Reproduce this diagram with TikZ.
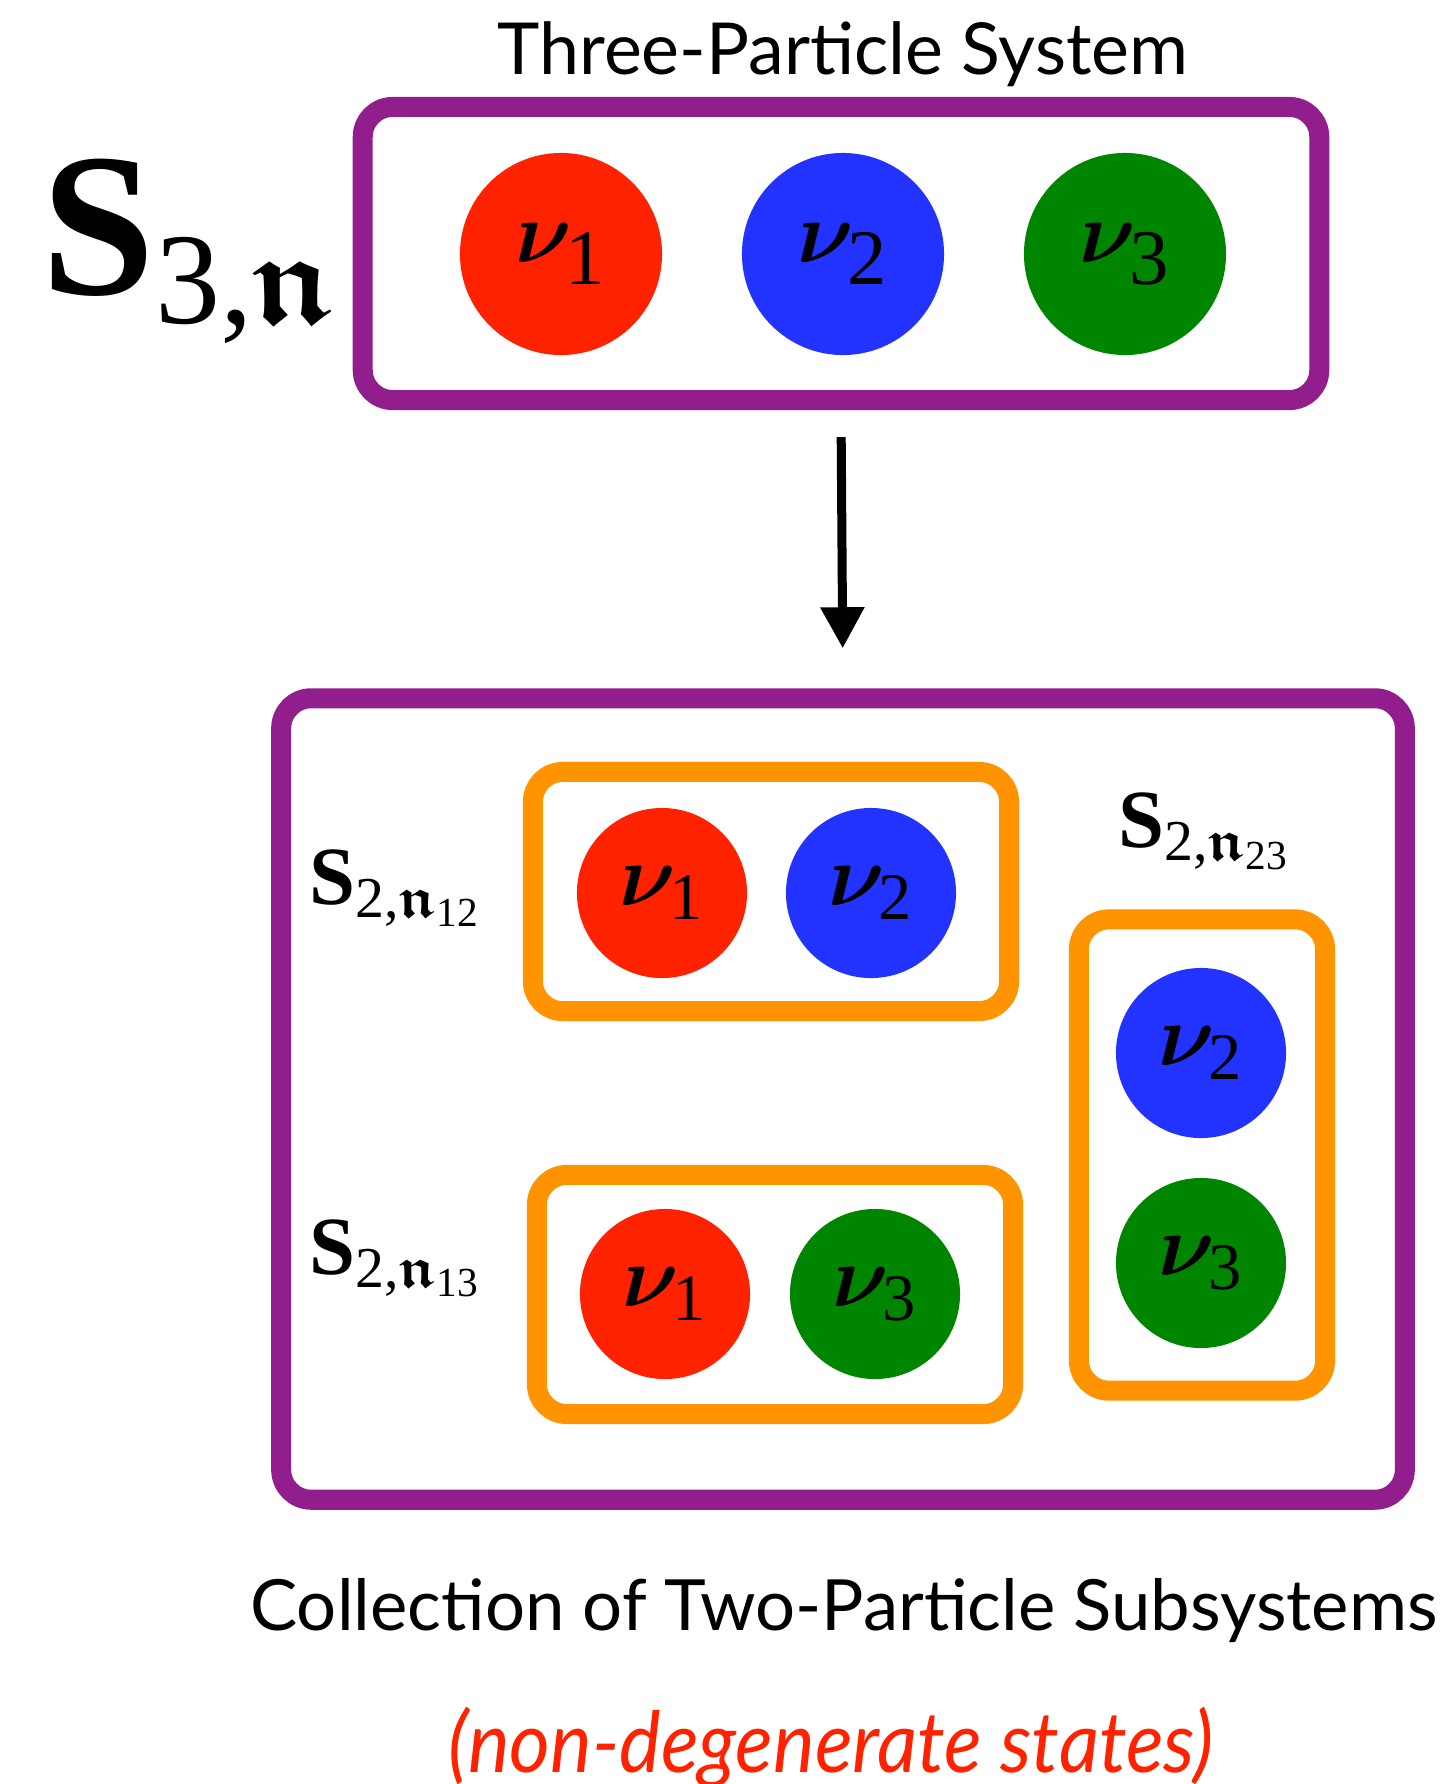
\documentclass[tikz,border=0pt]{standalone}
\usepackage{amsmath,amssymb,bm}
\usepackage{graphicx}
\usepackage{fontspec}
\usepackage{tikz}
\usetikzlibrary{positioning,arrows.meta}
\newfontfamily\tmfont{Liberation Serif}
\newfontfamily\gillfont{Lato}
\definecolor{sysframe}{HTML}{921E8E}
\definecolor{pairframe}{HTML}{FF9300}
\definecolor{nured}{HTML}{FF2200}
\definecolor{nublue}{HTML}{2233FF}
\definecolor{nugreen}{HTML}{008500}
\newcommand{\nuof}[1]{$\boldsymbol{\nu}_{\text{\tmfont #1}}$}
\newcommand{\subsys}[2]{$\text{\tmfont\bfseries S}_{\text{\tmfont #1,}\boldsymbol{\mathfrak{n}}_{\text{\tmfont #2}}}$}
\tikzset{
    sysbox/.style={rectangle, draw=sysframe, line width=0.2cm, rounded corners=0.3cm},
    pairbox/.style={rectangle, draw=pairframe, line width=0.2cm, rounded corners=0.3cm},
    particle/.style={circle, inner sep=0pt, minimum size=1.7cm, font=\fontsize{27}{30}\selectfont},
    bigparticle/.style={particle, minimum size=2.02cm, font=\fontsize{32}{36}\selectfont},
    syslabel/.style={inner sep=0pt, font=\fontsize{23.5}{28}\selectfont},
    heading/.style={inner sep=0pt, font=\gillfont\fontsize{20.4}{25}\selectfont},
    arrow/.style={-{Triangle[width=0.42cm,length=0.41cm]}, line width=0.09cm, black}
}

\begin{document}
\begin{tikzpicture}[x=0.01cm, y=-0.01cm]
\useasboundingbox (0,0) rectangle (1440,1784);
% three-particle system
\node[heading, anchor=base] (title) at (843,74) {Three-Particle System};
\node[sysbox, minimum width=9.56cm, minimum height=2.93cm] (three) at (841,253.5) {};
\node[bigparticle, fill=nured] (a1) at (561,254) {\nuof{1}};
\node[bigparticle, fill=nublue] (a2) at (843,254) {\nuof{2}};
\node[bigparticle, fill=nugreen] (a3) at (1125,254) {\nuof{3}};
\node[syslabel, scale=2.25, anchor=base west] (s3) at (40,294) {$\text{\tmfont\bfseries\scalebox{1.1}{S}}_{\text{\tmfont 3,}\boldsymbol{\mathfrak{n}}}$};

% two-particle subsystems
\node[sysbox, minimum width=11.23cm, minimum height=8.01cm] (pairs) at (843,1099) {};
\draw[arrow, shorten <=0.27cm, shorten >=0.40cm] (three.south) -- (pairs.north);

\node[pairbox, minimum width=4.76cm, minimum height=2.39cm] (box12) at (771,891.5) {};
\node[particle, fill=nured] (b1) at (662,893) {\nuof{1}};
\node[particle, fill=nublue] (b2) at (871,893) {\nuof{2}};
\node[syslabel, anchor=base west] (s12) at (309,904) {\subsys{2}{12}};

\node[pairbox, minimum width=4.76cm, minimum height=2.39cm] (box13) at (775,1294.5) {};
\node[particle, fill=nured] (c1) at (665,1294) {\nuof{1}};
\node[particle, fill=nugreen] (c3) at (875,1294) {\nuof{3}};
\node[syslabel, anchor=base west] (s13) at (309,1274) {\subsys{2}{13}};

\node[pairbox, minimum width=2.46cm, minimum height=4.71cm] (box23) at (1202,1155) {};
\node[particle, fill=nublue] (d2) at (1201,1053) {\nuof{2}};
\node[particle, fill=nugreen] (d3) at (1201,1263) {\nuof{3}};
\node[syslabel, anchor=base west] (s23) at (1118,847) {\subsys{2}{23}};

\node[heading, anchor=base, font=\gillfont\fontsize{20.1}{24}\selectfont] (caption) at (844,1630) {Collection of Two-Particle Subsystems};
\node[heading, anchor=base, text=nured, xscale=0.93, font=\gillfont\itshape\fontsize{24}{30}\selectfont] (note) at (831,1772) {(non-degenerate states)};
\end{tikzpicture}
\end{document}
